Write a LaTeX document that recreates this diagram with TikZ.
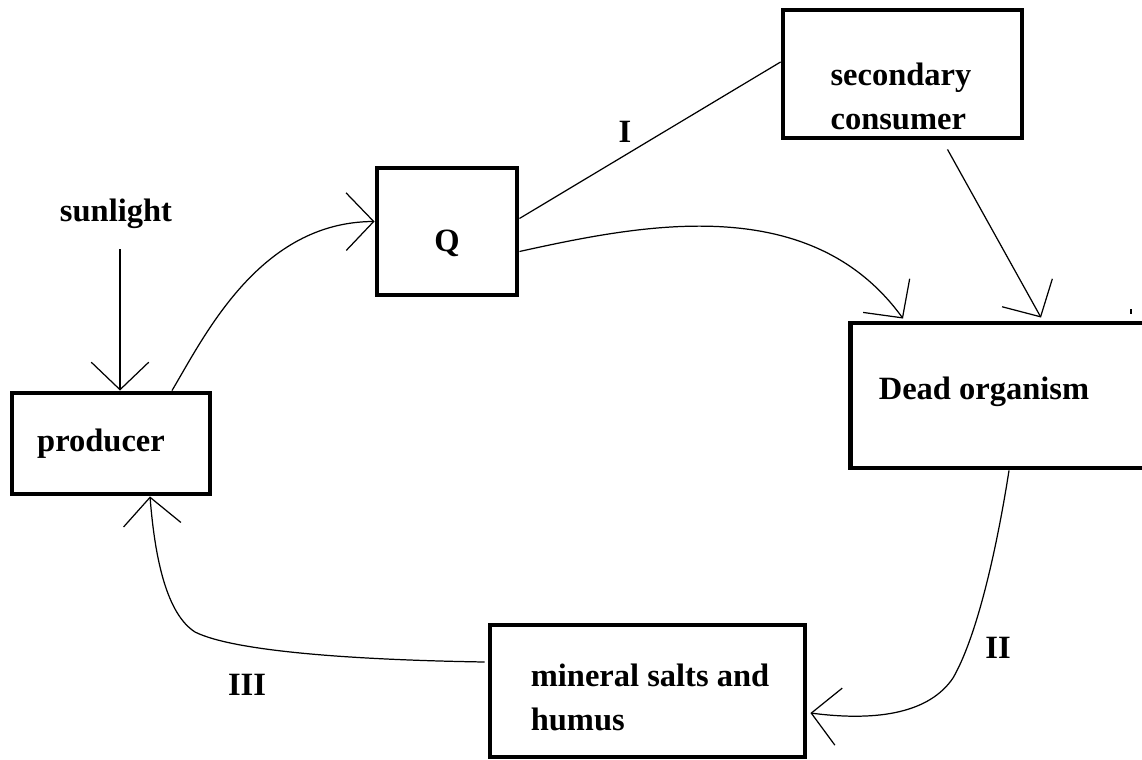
\documentclass[tikz,border=0pt]{standalone}
\usepackage{fontspec}
\setmainfont{Liberation Serif}
\usetikzlibrary{arrows.meta}
\begin{document}
\begin{tikzpicture}[x=0.02cm,y=-0.02cm,
  box/.style={draw, line width=2.8pt, inner sep=0pt, rectangle},
  lbl/.style={font=\fontsize{18.5}{25}\selectfont\bfseries, inner sep=0pt, align=left},
  conn/.style={line width=0.7pt},
  arr/.style={conn, -{Straight Barb[length=0.55cm, width=1.15cm, line width=0.7pt]}}]
\clip (0,0) rectangle (1142,760);
% boxes
\node[box, minimum width=3.96cm, minimum height=2.02cm] (producer) at (111,443.5) {};
\node[box, minimum width=2.8cm, minimum height=2.54cm] (Q) at (447,231.5) {};
\node[box, minimum width=4.78cm, minimum height=2.56cm] (sec) at (902.5,74) {};
\node[box, minimum width=5.92cm, minimum height=2.9cm] (dead) at (998,395.5) {};
\node[box, minimum width=6.3cm, minimum height=2.64cm] (minr) at (647.5,691) {};
% texts
\node[lbl] (producer-t) at (101,444) {producer};
\node[lbl] (Q-t) at (447,243) {Q};
\node[lbl] (sec-t) at (901,96) {secondary\\consumer};
\node[lbl] (dead-t) at (984,392) {Dead organism};
\node[lbl] (minr-t) at (650,697) {mineral salts and\\humus};
\node[lbl] (sun) at (116,214) {sunlight};
\node[lbl] (lI) at (625,132) {I};
\node[lbl] (lII) at (998,648) {II};
\node[lbl] (lIII) at (247,685) {III};
% connectors
\draw[arr] ([shift={(4,20)}]sun.south) -- ([shift={(9,0)}]producer.north);
\draw[arr] ([shift={(61,0)}]producer.north) .. controls (205,335) and (260,222) .. ([shift={(0,-10)}]Q.west);
\draw[conn] ([shift={(0,-13)}]Q.east) -- ([shift={(0,-12)}]sec.west);
\draw[arr] ([shift={(0,20)}]Q.east) .. controls (640,225) and (810,190) .. ([shift={(-95,-2)}]dead.north);
\draw[arr] ([shift={(45,9)}]sec.south) -- ([shift={(43,-3)}]dead.north);
\draw[arr] ([shift={(11,0)}]dead.south) .. controls (995,560) and (975,640) .. (953,678) .. controls (930,712) and (880,722) .. ([shift={(3,22)}]minr.east);
\draw[arr] ([shift={(-3,-29)}]minr.west) .. controls (360,660) and (235,652) .. (195,632) .. controls (167,614) and (155,560) .. ([shift={(39,0)}]producer.south);
% stray mark
\fill (1130,309) rectangle (1132,314);
\end{tikzpicture}
\end{document}
